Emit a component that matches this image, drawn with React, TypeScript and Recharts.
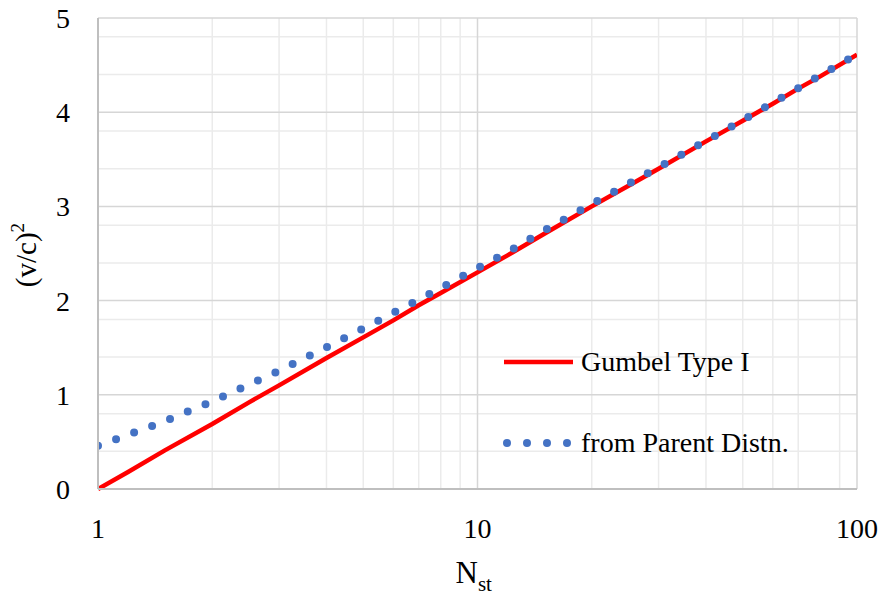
import { LineChart, Line, XAxis, YAxis, CartesianGrid, Label } from "recharts";

const nValues = [1, 1.2, 1.5, 2, 2.5, 3, 4, 5, 6, 7, 8, 10, 12, 15, 20, 25, 30, 40, 50, 60, 70, 80, 100];
const gumbel = [0, 0.18, 0.41, 0.69, 0.92, 1.1, 1.39, 1.61, 1.79, 1.95, 2.08, 2.3, 2.48, 2.71, 3.0, 3.22, 3.4, 3.69, 3.91, 4.09, 4.25, 4.38, 4.61];
const parent = [0.46, 0.575, 0.72, 0.93, 1.11, 1.255, 1.505, 1.705, 1.87, 2.01, 2.135, 2.345, 2.515, 2.745, 3.025, 3.24, 3.415, 3.695, 3.915, 4.1, 4.255, 4.39, 4.615];

const xTicks = [1, 10, 100];
const yTicks = [0, 1, 2, 3, 4, 5];
const xMinor = [2, 3, 4, 5, 6, 7, 8, 9, 20, 30, 40, 50, 60, 70, 80, 90];
const yMinor = [0.2, 0.4, 0.6, 0.8, 1.2, 1.4, 1.6, 1.8, 2.2, 2.4, 2.6, 2.8, 3.2, 3.4, 3.6, 3.8, 4.2, 4.4, 4.6, 4.8];

const data = nValues.map((n, i) => ({ n, gumbel: gumbel[i], parent: parent[i] }));

const FONT = "'Liberation Serif', 'Times New Roman', serif";
const RED = "#ff0000";
const BLUE = "#4472c4";

function LegendBox() {
  return (
    <div
      style={{
        position: "absolute",
        left: 501,
        top: 342,
        fontFamily: FONT,
        fontSize: 28,
        color: "#000",
        lineHeight: "40px",
      }}
    >
      <div style={{ display: "flex", alignItems: "center", height: 40 }}>
        <svg width={80} height={10}>
          <line x1={3} y1={5} x2={72} y2={5} stroke={RED} strokeWidth={4.5} />
        </svg>
        <span>Gumbel Type I</span>
      </div>
      <div style={{ display: "flex", alignItems: "center", height: 40, marginTop: 41 }}>
        <svg width={80} height={12}>
          {[6, 26, 46, 66].map((cx) => (
            <circle key={cx} cx={cx} cy={6} r={4} fill={BLUE} />
          ))}
        </svg>
        <span>from Parent Distn.</span>
      </div>
    </div>
  );
}

export default function App() {
  return (
    <div style={{ position: "absolute", left: 0, top: 0, width: 881, height: 601, background: "#fff" }}>
      <LineChart width={881} height={601} data={data} margin={{ top: 18, right: 24, bottom: 0, left: 0 }}>
        <CartesianGrid stroke="#ebebeb" strokeWidth={1.5} verticalValues={xMinor} horizontalValues={yMinor} />
        <CartesianGrid stroke="#d6d6d6" strokeWidth={1.5} verticalValues={xTicks} horizontalValues={yTicks} />
        <XAxis
          dataKey="n"
          type="number"
          scale="log"
          domain={[1, 100]}
          ticks={xTicks}
          allowDataOverflow
          height={112}
          tickLine={false}
          tickSize={0}
          tickMargin={29}
          axisLine={{ stroke: "#bfbfbf", strokeWidth: 2 }}
          tick={{ fill: "#000", fontSize: 28, fontFamily: FONT }}
        >
          <Label
            content={({ viewBox }: any) => {
              const cx = viewBox.x + viewBox.width / 2;
              return (
                <text x={cx - 22} y={583} fontFamily={FONT} fontSize={31} fill="#000">
                  N
                  <tspan fontSize={21} dy={8}>st</tspan>
                </text>
              );
            }}
          />
        </XAxis>
        <YAxis
          type="number"
          domain={[0, 5]}
          ticks={yTicks}
          width={98}
          tickLine={false}
          tickSize={0}
          tickMargin={28}
          axisLine={{ stroke: "#bfbfbf", strokeWidth: 2 }}
          tick={{ fill: "#000", fontSize: 28, fontFamily: FONT }}
        >
          <Label
            content={() => (
              <text
                x={36}
                y={255}
                transform="rotate(-90 36 255)"
                textAnchor="middle"
                fontFamily={FONT}
                fontSize={29}
                fill="#000"
              >
                (v/c)
                <tspan fontSize={19} dy={-12}>2</tspan>
              </text>
            )}
          />
        </YAxis>
        <Line
          dataKey="gumbel"
          stroke={RED}
          strokeWidth={4.5}
          dot={false}
          activeDot={false}
          isAnimationActive={false}
          name="Gumbel Type I"
        />
        <Line
          dataKey="parent"
          stroke={BLUE}
          strokeWidth={8}
          strokeDasharray="0 19.2"
          strokeLinecap="round"
          dot={false}
          activeDot={false}
          isAnimationActive={false}
          name="from Parent Distn."
        />
      </LineChart>
      <LegendBox />
    </div>
  );
}
